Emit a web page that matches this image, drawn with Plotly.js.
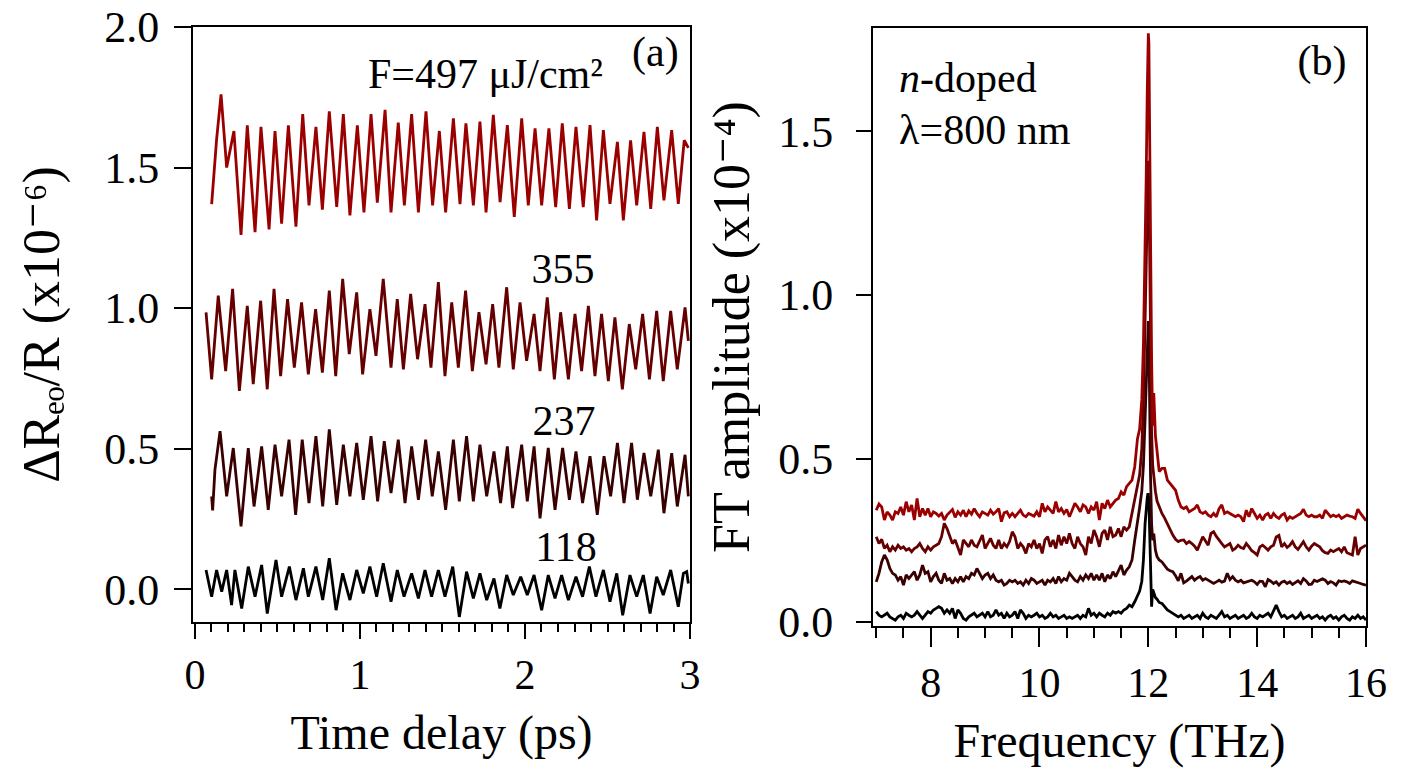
<!DOCTYPE html>
<html>
<head>
<meta charset="utf-8">
<script src="https://cdn.plot.ly/plotly-3.0.1.min.js"></script>
<style>html,body{margin:0;padding:0;background:#fff;}#chart{width:1409px;height:771px;}</style>
</head>
<body>
<div id="chart"></div>
<script>
// ---------- Panel (a): time-domain traces (x10^-6, offset) ----------
const t497 = [0.101,0.131,0.158,0.192,0.236,0.279,0.317,0.364,0.400,0.449,0.485,0.525,0.566,0.612,0.653,0.691,0.733,0.772,0.814,0.859,0.899,0.939,0.984,1.024,1.067,1.105,1.152,1.188,1.232,1.269,1.313,1.354,1.400,1.440,1.481,1.519,1.566,1.606,1.642,1.687,1.727,1.764,1.808,1.849,1.893,1.935,1.980,2.020,2.061,2.101,2.145,2.186,2.226,2.269,2.309,2.353,2.394,2.434,2.475,2.515,2.560,2.596,2.640,2.677,2.721,2.762,2.802,2.842,2.889,2.929,2.965,2.990];
const r497 = [1.37,1.60,1.76,1.50,1.63,1.26,1.65,1.27,1.645,1.28,1.63,1.30,1.65,1.29,1.69,1.365,1.645,1.35,1.70,1.36,1.69,1.33,1.65,1.34,1.69,1.375,1.705,1.34,1.66,1.365,1.69,1.34,1.70,1.365,1.63,1.34,1.675,1.37,1.657,1.365,1.663,1.34,1.687,1.377,1.651,1.324,1.675,1.365,1.639,1.365,1.639,1.359,1.657,1.353,1.645,1.359,1.651,1.312,1.633,1.371,1.591,1.312,1.597,1.365,1.627,1.353,1.645,1.383,1.633,1.371,1.597,1.57];

const t355 = [0.067,0.101,0.141,0.186,0.228,0.269,0.317,0.353,0.398,0.438,0.479,0.519,0.561,0.602,0.646,0.687,0.731,0.772,0.814,0.853,0.895,0.935,0.980,1.016,1.060,1.097,1.141,1.188,1.226,1.263,1.307,1.349,1.394,1.430,1.475,1.515,1.556,1.596,1.640,1.681,1.721,1.764,1.804,1.842,1.889,1.929,1.970,2.010,2.055,2.091,2.135,2.178,2.216,2.263,2.303,2.343,2.384,2.424,2.464,2.505,2.545,2.590,2.632,2.671,2.713,2.754,2.798,2.838,2.883,2.923,2.970,2.990];
const r355 = [0.985,0.746,1.044,0.776,1.068,0.705,1.008,0.729,1.026,0.711,1.068,0.758,1.032,0.788,1.020,0.764,0.996,0.770,1.062,0.758,1.104,0.836,1.056,0.764,0.996,0.830,1.104,0.788,1.032,0.782,1.050,0.818,1.014,0.788,1.092,0.758,1.020,0.788,1.062,0.776,0.985,0.800,1.014,0.788,1.074,0.782,1.020,0.812,0.979,0.776,1.038,0.746,0.985,0.746,0.979,0.776,1.008,0.758,0.979,0.740,0.967,0.711,0.943,0.782,0.979,0.746,0.990,0.740,0.990,0.782,1.002,0.883];

const t237 = [0.101,0.107,0.121,0.152,0.192,0.232,0.279,0.323,0.358,0.404,0.444,0.485,0.525,0.570,0.610,0.650,0.691,0.733,0.774,0.814,0.859,0.899,0.939,0.980,1.020,1.067,1.107,1.147,1.188,1.232,1.273,1.313,1.354,1.398,1.438,1.475,1.519,1.566,1.602,1.646,1.687,1.727,1.768,1.812,1.852,1.893,1.925,1.980,2.014,2.055,2.091,2.141,2.182,2.228,2.269,2.309,2.349,2.394,2.438,2.479,2.519,2.560,2.600,2.646,2.681,2.721,2.762,2.808,2.842,2.889,2.923,2.970,2.990];
const r237 = [0.33,0.28,0.425,0.562,0.330,0.502,0.223,0.502,0.294,0.508,0.282,0.514,0.330,0.532,0.264,0.532,0.306,0.544,0.294,0.568,0.300,0.514,0.330,0.520,0.318,0.544,0.312,0.526,0.342,0.532,0.306,0.508,0.318,0.532,0.330,0.490,0.282,0.532,0.312,0.544,0.312,0.514,0.330,0.490,0.306,0.508,0.288,0.514,0.312,0.508,0.252,0.502,0.282,0.502,0.318,0.490,0.306,0.473,0.264,0.473,0.330,0.520,0.306,0.520,0.318,0.484,0.330,0.496,0.270,0.484,0.294,0.478,0.330];

const t118 = [0.067,0.101,0.131,0.162,0.192,0.222,0.242,0.283,0.323,0.364,0.404,0.438,0.491,0.525,0.572,0.612,0.657,0.687,0.733,0.774,0.814,0.855,0.895,0.939,0.980,1.020,1.060,1.101,1.141,1.188,1.226,1.267,1.313,1.354,1.394,1.434,1.475,1.515,1.562,1.602,1.646,1.687,1.727,1.768,1.812,1.848,1.889,1.929,1.974,2.014,2.055,2.101,2.141,2.182,2.222,2.263,2.309,2.349,2.390,2.430,2.475,2.515,2.556,2.592,2.636,2.677,2.717,2.758,2.798,2.838,2.883,2.929,2.960,2.980,2.990];
const r118 = [0.068,-0.027,0.068,-0.009,0.068,-0.057,0.068,-0.069,0.080,-0.027,0.086,-0.087,0.104,-0.027,0.080,-0.039,0.074,-0.027,0.080,-0.039,0.110,-0.075,0.056,-0.039,0.068,-0.015,0.080,-0.027,0.092,-0.045,0.068,-0.027,0.056,-0.033,0.068,-0.027,0.068,-0.027,0.080,-0.099,0.062,-0.033,0.056,-0.039,0.038,-0.069,0.050,-0.021,0.044,-0.021,0.050,-0.075,0.050,-0.033,0.050,-0.039,0.044,-0.027,0.080,-0.027,0.068,-0.045,0.056,-0.093,0.050,-0.027,0.050,-0.087,0.044,-0.021,0.068,-0.063,0.056,0.062,0.020];

// ---------- Panel (b): FT spectra (x10^-4) ----------
const freq = [7.00,7.05,7.10,7.15,7.20,7.25,7.30,7.35,7.40,7.45,
7.50,7.55,7.60,7.65,7.70,7.75,7.80,7.85,7.90,7.95,
8.00,8.05,8.10,8.15,8.20,8.25,8.30,8.35,8.40,8.45,
8.50,8.55,8.60,8.65,8.70,8.75,8.80,8.85,8.90,8.95,
9.00,9.05,9.10,9.15,9.20,9.25,9.30,9.35,9.40,9.45,
9.50,9.55,9.60,9.65,9.70,9.75,9.80,9.85,9.90,9.95,
10.00,10.05,10.10,10.15,10.20,10.25,10.30,10.35,10.40,10.45,
10.50,10.55,10.60,10.65,10.70,10.75,10.80,10.85,10.90,10.95,
11.00,11.05,11.10,11.15,11.20,11.25,11.30,11.35,11.40,11.45,
11.50,11.55,11.60,11.65,11.70,11.75,
11.80,11.84,11.88,11.91,11.94,11.96,11.98,11.99,12.00,12.01,12.02,12.04,12.06,12.08,12.10,12.13,12.16,12.20,
12.25,12.30,12.35,12.40,12.45,12.50,12.55,12.60,12.65,12.70,
12.75,12.80,12.85,12.90,12.95,13.00,13.05,13.10,13.15,13.20,
13.25,13.30,13.35,13.40,13.45,13.50,13.55,13.60,13.65,13.70,
13.75,13.80,13.85,13.90,13.95,14.00,14.05,14.10,14.15,14.20,
14.25,14.30,14.35,14.40,14.45,14.50,14.55,14.60,14.65,14.70,
14.75,14.80,14.85,14.90,14.95,15.00,15.05,15.10,15.15,15.20,
15.25,15.30,15.35,15.40,15.45,15.50,15.55,15.60,15.65,15.70,
15.75,15.80,15.85,15.90,15.95,16.00];

const ft497 = [0.342,0.361,0.352,0.312,0.337,0.327,0.312,0.337,0.332,0.352,
0.327,0.368,0.337,0.358,0.312,0.378,0.322,0.347,0.327,0.347,
0.322,0.337,0.332,0.324,0.332,0.312,0.327,0.337,0.344,0.320,
0.337,0.327,0.342,0.322,0.340,0.330,0.347,0.332,0.322,0.337,
0.332,0.327,0.342,0.330,0.337,0.347,0.307,0.334,0.337,0.322,
0.332,0.322,0.332,0.342,0.327,0.322,0.332,0.327,0.324,0.337,
0.322,0.363,0.337,0.352,0.342,0.332,0.368,0.337,0.347,0.332,
0.344,0.322,0.342,0.363,0.352,0.337,0.358,0.352,0.332,0.352,
0.342,0.368,0.312,0.363,0.347,0.373,0.352,0.363,0.373,0.378,
0.398,0.388,0.414,0.424,0.434,0.475,
0.56,0.59,0.68,0.85,1.10,1.35,1.62,1.76,1.80,1.77,1.55,1.08,0.80,0.60,0.70,0.57,0.52,0.46,
0.47,0.47,0.434,0.424,0.414,0.403,0.373,0.352,0.347,0.352,
0.337,0.342,0.347,0.358,0.337,0.332,0.337,0.327,0.322,0.332,
0.322,0.347,0.358,0.332,0.337,0.332,0.327,0.322,0.327,0.322,
0.307,0.342,0.322,0.347,0.332,0.317,0.327,0.312,0.327,0.332,
0.317,0.332,0.322,0.317,0.327,0.332,0.312,0.322,0.317,0.322,
0.327,0.332,0.345,0.327,0.322,0.327,0.322,0.322,0.327,0.317,
0.342,0.332,0.322,0.327,0.322,0.327,0.317,0.322,0.327,0.324,
0.322,0.317,0.345,0.332,0.322,0.310];

const ft355 = [0.261,0.240,0.253,0.225,0.235,0.215,0.230,0.220,0.235,0.225,
0.230,0.220,0.225,0.215,0.225,0.230,0.240,0.225,0.215,0.230,
0.220,0.230,0.235,0.240,0.261,0.302,0.286,0.261,0.240,0.251,
0.230,0.205,0.251,0.240,0.230,0.251,0.235,0.230,0.246,0.266,
0.225,0.240,0.256,0.235,0.225,0.251,0.225,0.240,0.230,0.246,
0.276,0.261,0.225,0.240,0.230,0.210,0.240,0.230,0.251,0.225,
0.240,0.210,0.251,0.261,0.230,0.251,0.225,0.266,0.235,0.261,
0.240,0.271,0.240,0.225,0.261,0.240,0.230,0.205,0.261,0.240,
0.281,0.261,0.230,0.271,0.281,0.251,0.291,0.261,0.266,0.286,
0.261,0.291,0.281,0.291,0.332,0.383,
0.42,0.45,0.53,0.68,0.92,1.12,1.32,1.39,1.41,1.36,1.15,0.80,0.58,0.48,0.44,0.40,0.37,0.352,
0.332,0.318,0.300,0.285,0.266,0.253,0.246,0.250,0.251,0.240,
0.246,0.240,0.232,0.220,0.238,0.261,0.248,0.235,0.271,0.276,
0.262,0.250,0.240,0.230,0.235,0.240,0.220,0.225,0.235,0.228,
0.225,0.240,0.230,0.218,0.212,0.205,0.230,0.235,0.228,0.220,
0.230,0.235,0.260,0.265,0.230,0.240,0.228,0.235,0.246,0.230,
0.222,0.235,0.246,0.230,0.220,0.232,0.240,0.235,0.230,0.218,
0.212,0.210,0.220,0.215,0.220,0.225,0.215,0.230,0.212,0.208,
0.205,0.261,0.205,0.225,0.230,0.235];

const ft237 = [0.123,0.149,0.184,0.205,0.190,0.164,0.149,0.144,0.128,0.139,
0.113,0.144,0.133,0.144,0.154,0.128,0.144,0.174,0.149,0.154,
0.123,0.139,0.149,0.128,0.118,0.149,0.128,0.133,0.118,0.133,
0.123,0.139,0.123,0.139,0.133,0.149,0.144,0.164,0.149,0.133,
0.144,0.149,0.133,0.144,0.128,0.123,0.128,0.113,0.118,0.128,
0.123,0.128,0.118,0.123,0.113,0.128,0.118,0.133,0.128,0.118,
0.123,0.128,0.113,0.128,0.123,0.133,0.118,0.139,0.123,0.133,
0.128,0.149,0.139,0.128,0.123,0.139,0.128,0.144,0.133,0.149,
0.128,0.144,0.128,0.149,0.123,0.144,0.133,0.154,0.139,0.159,
0.174,0.144,0.159,0.169,0.190,0.250,
0.30,0.35,0.40,0.48,0.62,0.74,0.86,0.91,0.92,0.88,0.70,0.45,0.30,0.25,0.27,0.22,0.20,0.19,
0.184,0.172,0.162,0.157,0.154,0.142,0.126,0.149,0.120,0.125,
0.133,0.139,0.128,0.135,0.139,0.128,0.133,0.128,0.124,0.118,
0.123,0.128,0.122,0.125,0.149,0.130,0.139,0.128,0.123,0.128,
0.120,0.123,0.125,0.128,0.123,0.115,0.125,0.124,0.108,0.130,
0.125,0.118,0.123,0.113,0.122,0.125,0.118,0.123,0.115,0.122,
0.126,0.118,0.133,0.126,0.115,0.116,0.128,0.124,0.128,0.132,
0.128,0.118,0.124,0.120,0.113,0.126,0.124,0.126,0.123,0.118,
0.126,0.124,0.122,0.118,0.115,0.113];

const ft118 = [0.032,0.021,0.016,0.021,0.027,0.016,0.011,0.006,0.016,0.021,
0.011,0.027,0.021,0.016,0.021,0.032,0.021,0.011,0.021,0.032,
0.027,0.037,0.042,0.047,0.042,0.027,0.037,0.027,0.042,0.011,
0.037,0.027,0.011,0.006,0.016,0.021,0.027,0.016,0.021,0.027,
0.016,0.032,0.016,0.021,0.037,0.021,0.027,0.011,0.027,0.016,
0.021,0.032,0.011,0.037,0.027,0.011,0.021,0.016,0.021,0.027,
0.016,0.021,0.011,0.016,0.027,0.016,0.021,0.011,0.016,0.021,
0.011,0.016,0.011,0.016,0.021,0.011,0.021,0.016,0.042,0.021,
0.027,0.016,0.027,0.021,0.016,0.027,0.021,0.032,0.027,0.032,
0.027,0.037,0.042,0.052,0.047,0.062,
0.078,0.095,0.125,0.19,0.30,0.35,0.38,0.39,0.39,0.37,0.30,0.18,0.047,0.10,0.09,0.075,0.07,0.06,
0.057,0.047,0.037,0.032,0.027,0.021,0.016,0.021,0.011,0.016,
0.021,0.011,0.016,0.021,0.011,0.027,0.016,0.011,0.021,0.016,
0.011,0.021,0.032,0.016,0.021,0.011,0.016,0.021,0.011,0.016,
0.021,0.011,0.016,0.027,0.016,0.011,0.021,0.016,0.021,0.027,
0.016,0.037,0.052,0.032,0.016,0.021,0.011,0.016,0.021,0.011,
0.016,0.027,0.011,0.016,0.021,0.011,0.016,0.021,0.011,0.016,
0.006,0.016,0.021,0.011,0.016,0.006,0.016,0.021,0.011,0.006,
0.016,0.011,0.021,0.011,0.016,0.006];

const fluenceLabels = ['118','237','355'];
const topLabel = 'F=497 μJ/cm²';

const colors = {c497:'#9b0000', c355:'#660000', c237:'#380000', c118:'#000000'};
const FONT = 'Liberation Serif, Times New Roman, DejaVu Serif, serif';
const LW = 2.8;

function tr(x, y, color, xa, ya, name){
  return {x:x, y:y, type:'scatter', mode:'lines', name:name, xaxis:xa, yaxis:ya,
          line:{color:color, width:LW}, hoverinfo:'skip'};
}
const tf = (s) => ({family:FONT, size:s, color:'black'});
function lbl(x, y, text, pos, xa, ya){
  return {x:[x], y:[y], text:[text], type:'scatter', mode:'text', textposition:pos,
          textfont:tf(42), xaxis:xa, yaxis:ya, hoverinfo:'skip', cliponaxis:false};
}

const data = [
  tr(t497, r497, colors.c497, 'x', 'y', '497'),
  tr(t355, r355, colors.c355, 'x', 'y', '355'),
  tr(t237, r237, colors.c237, 'x', 'y', '237'),
  tr(t118, r118, colors.c118, 'x', 'y', '118'),
  tr(freq, ft118, colors.c118, 'x2', 'y2', 'FT 118'),
  tr(freq, ft237, colors.c237, 'x2', 'y2', 'FT 237'),
  tr(freq, ft355, colors.c355, 'x2', 'y2', 'FT 355'),
  tr(freq, ft497, colors.c497, 'x2', 'y2', 'FT 497'),
  lbl(1.76, 1.82, topLabel, 'middle center', 'x', 'y'),
  lbl(2.79, 1.90, '(a)', 'middle center', 'x', 'y'),
  lbl(2.23, 1.128, fluenceLabels[2], 'middle center', 'x', 'y'),
  lbl(2.236, 0.587, fluenceLabels[1], 'middle center', 'x', 'y'),
  lbl(2.248, 0.139, fluenceLabels[0], 'middle center', 'x', 'y'),
  lbl(15.19, 1.705, '(b)', 'middle center', 'x2', 'y2'),
  lbl(7.42, 1.654, '<i>n</i>-doped', 'middle right', 'x2', 'y2'),
  lbl(7.42, 1.495, 'λ=800 nm', 'middle right', 'x2', 'y2')
];

const axBase = {showline:true, linewidth:2, linecolor:'black', mirror:true, showgrid:false, zeroline:false,
  ticks:'outside', tickwidth:2, tickcolor:'black'};

const layout = {
  width:1409, height:771,
  margin:{l:193, r:43, t:27, b:145, pad:0},
  paper_bgcolor:'white', plot_bgcolor:'white', showlegend:false,
  font:tf(42),
  xaxis: Object.assign({}, axBase, {
    domain:[0, 0.4237], range:[-0.012, 3.0], anchor:'y',
    tickmode:'linear', tick0:0, dtick:1, ticklen:15, tickfont:tf(42),
    minor:{tickmode:'linear', tick0:0, dtick:0.1, ticks:'outside', ticklen:8, tickwidth:2, tickcolor:'black', showgrid:false},
    title:{text:'Time delay (ps)', font:tf(48), standoff:18}
  }),
  yaxis: Object.assign({}, axBase, {
    domain:[0.0067, 1], range:[-0.117, 2.0], anchor:'x',
    tickmode:'linear', tick0:0, dtick:0.5, tickformat:'.1f', ticklen:17, tickfont:tf(44), ticklabelstandoff:6,
    title:{text:'ΔRₑₒ/R (x10⁻⁶)', font:tf(52), standoff:28}
  }),
  xaxis2: Object.assign({}, axBase, {
    domain:[0.5797, 1], range:[6.94, 16.0], anchor:'y2',
    tickmode:'linear', tick0:0, dtick:2, ticklen:19, tickfont:tf(42),
    minor:{tickmode:'linear', tick0:0, dtick:0.5, ticks:'outside', ticklen:10, tickwidth:2, tickcolor:'black', showgrid:false},
    title:{text:'Frequency (THz)', font:tf(48), standoff:18}
  }),
  yaxis2: Object.assign({}, axBase, {
    domain:[0, 0.9983], range:[-0.012, 1.816], anchor:'x2',
    tickmode:'linear', tick0:0, dtick:0.5, tickformat:'.1f', ticklen:15, tickfont:tf(44), ticklabelstandoff:14,
    title:{text:'FT amplitude (x10⁻⁴)', font:tf(52), standoff:12}
  })
};

Plotly.newPlot('chart', data, layout, {displayModeBar:false});
</script>
</body>
</html>
